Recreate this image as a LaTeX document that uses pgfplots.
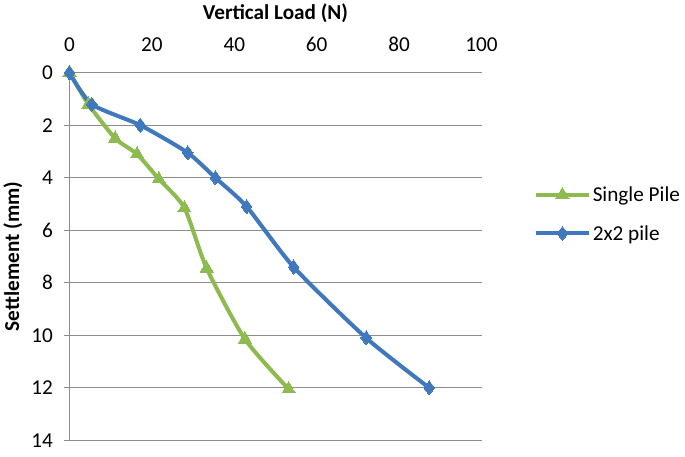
\documentclass[border=0pt]{standalone}
\usepackage{pgfplots}
\pgfplotsset{compat=1.18}
\usepackage{fontspec}
\setmainfont{Carlito}
\definecolor{xlgreen}{HTML}{8DBB4F}
\definecolor{xlblue}{HTML}{3F78BC}
\definecolor{gridgray}{HTML}{8C8C8C}

\begin{document}
\begin{tikzpicture}[font=\fontsize{21}{25}\selectfont]
\begin{axis}[
  scale only axis,
  width=408pt, height=364pt,
  xmin=0, xmax=100, ymin=0, ymax=14,
  y dir=reverse,
  axis x line*=top,
  axis y line*=left,
  axis line style={gridgray, line width=1pt},
  xtick={0,20,...,100}, ytick={0,2,...,14},
  x axis line style={draw=none},
  xtick style={draw=none},
  ytick style={gridgray, line width=1pt},
  tick align=outside,
  major tick length=5pt,
  ymajorgrids,
  grid style={gridgray, line width=1.2pt},
  /pgf/number format/assume math mode=true,
  xticklabel style={yshift=12pt},
  yticklabel style={xshift=-8pt},
  xlabel={\bfseries Vertical Load (N)},
  ylabel={\bfseries Settlement (mm)},
  xlabel style={yshift=8pt},
  ylabel style={yshift=2pt},
  clip=false,
  extra description/.code={\path (axis description cs:0,0) ++(0pt,-16pt);},
  legend style={draw=none, fill=none, at={(1.12,0.615)}, anchor=west,
    row sep=18pt, font=\fontsize{21}{25}\selectfont},
  legend cell align=left,
  legend image code/.code={
    \draw[mark repeat=2, mark phase=2, #1]
      plot coordinates {(0pt,0pt) (26pt,0pt) (52pt,0pt)};},
]
\addplot[xlgreen, line width=4pt, smooth, tension=0.4,
  mark=triangle*, mark size=7.5pt, mark options={solid, line width=0pt}]
  coordinates {
  (0,0) (4.6,1.2) (11.1,2.5) (16.4,3.1) (21.7,4.05) (27.9,5.15)
  (33.3,7.45) (42.6,10.15) (53.2,12.05)
};
\addlegendentry{Single Pile}
\addplot[xlblue, line width=4pt, smooth, tension=0.4,
  mark=diamond*, mark size=7pt, mark options={solid, line width=0pt}]
  coordinates {
  (0,0) (5.4,1.2) (17.2,2.0) (28.7,3.05) (35.4,4.0) (43.0,5.1)
  (54.4,7.4) (72.0,10.1) (87.3,12.0)
};
\addlegendentry{2x2 pile}
\end{axis}
\end{tikzpicture}
\end{document}
